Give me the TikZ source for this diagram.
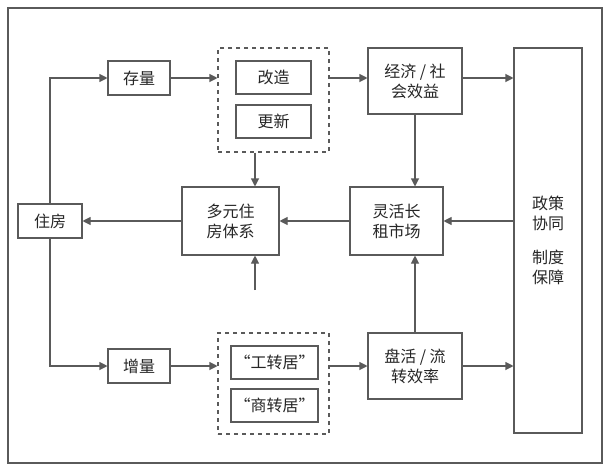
\documentclass[tikz,border=0pt]{standalone}
\usepackage{fontspec}
\setmainfont{Noto Sans CJK SC}
\usetikzlibrary{arrows.meta}
\definecolor{linegray}{RGB}{90,90,90}
\tikzset{
  box/.style={draw=linegray,thick,fill=white,text=black!85,align=center,inner sep=0pt,font=\fontsize{12}{15}\selectfont},
  dbox/.style={draw=linegray,thick,dashed,inner sep=0pt},
  arr/.style={draw=linegray,thick,-{Triangle[length=6pt,width=6pt]}}
}
\begin{document}
\begin{tikzpicture}[x=0.75pt,y=-0.75pt]
\useasboundingbox (0,0) rectangle (610,471);
\draw[linegray,thick] (8,8) rectangle (602,463);
% boxes
\node[box,minimum width=64*0.75pt,minimum height=34*0.75pt] (house) at (50,221) {住房};
\node[box,minimum width=62*0.75pt,minimum height=34*0.75pt] (stock) at (139,78) {存量};
\node[box,minimum width=62*0.75pt,minimum height=34*0.75pt] (incr) at (139,366) {增量};
\node[dbox,minimum width=111*0.75pt,minimum height=104*0.75pt] (top) at (273.5,100) {};
\node[box,minimum width=75*0.75pt,minimum height=33*0.75pt] at (273.5,77.5) {改造};
\node[box,minimum width=75*0.75pt,minimum height=33*0.75pt] at (273.5,121.5) {更新};
\node[dbox,minimum width=111*0.75pt,minimum height=101*0.75pt] (bot) at (273.5,383.5) {};
\node[box,minimum width=87*0.75pt,minimum height=33*0.75pt] at (274.5,362.5) {“工转居”};
\node[box,minimum width=87*0.75pt,minimum height=33*0.75pt] at (274.5,405.5) {“商转居”};
\node[box,minimum width=94*0.75pt,minimum height=66*0.75pt] (econ) at (415,81) {经济 / 社\\会效益};
\node[box,minimum width=97*0.75pt,minimum height=68*0.75pt] (multi) at (230.5,221) {多元住\\房体系};
\node[box,minimum width=93*0.75pt,minimum height=68*0.75pt] (rent) at (396.5,221) {灵活长\\租市场};
\node[box,minimum width=94*0.75pt,minimum height=66*0.75pt] (eff) at (415,366) {盘活 / 流\\转效率};
\node[box,minimum width=68*0.75pt,minimum height=385*0.75pt] (policy) at (548,240.5) {政策\\协同\\[10pt]制度\\保障};
\coordinate (tail) at (255,290);
\coordinate (row) at (0,78);
% connectors
\draw[arr] (house.north) |- (stock.west);
\draw[arr] (house.south) |- (incr.west);
\draw[arr] (stock.east) -- (stock.east -| top.west);
\draw[arr] (incr.east) -- (incr.east -| bot.west);
\draw[arr] (top.east |- row) -- (econ.west |- row);
\draw[arr] (bot.east |- eff.west) -- (eff.west);
\draw[arr] (econ.east |- row) -- (policy.west |- row);
\draw[arr] (eff.east) -- (eff.east -| policy.west);
\draw[arr] (policy.west |- rent.east) -- (rent.east);
\draw[arr] (econ.south) -- (econ.south |- rent.north);
\draw[arr] (eff.north) -- (eff.north |- rent.south);
\draw[arr] (rent.west) -- (multi.east);
\draw[arr] (multi.west) -- (house.east);
\draw[arr] (top.south -| tail) -- (multi.north -| tail);
\draw[arr] (tail) -- (multi.south -| tail);
\end{tikzpicture}
\end{document}
